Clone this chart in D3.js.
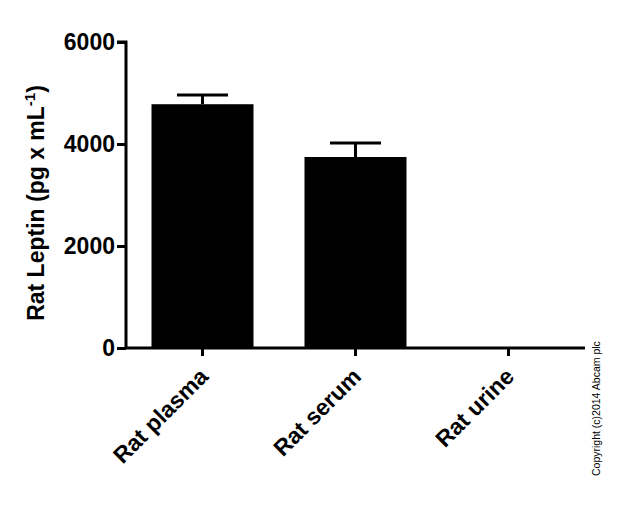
<!DOCTYPE html>
<html>
<head>
<meta charset="utf-8">
<script src="https://cdn.jsdelivr.net/npm/d3@7"></script>
<style>
  body { margin: 0; background: #fff; }
  svg { display: block; font-family: "Liberation Sans", Arial, sans-serif; }
</style>
</head>
<body>
<svg id="chart"></svg>
<script>
// data
const categories = ["Rat plasma", "Rat serum", "Rat urine"];
const means = [4780, 3745, 0];
const errors = [180, 275, 0];
const yTicks = [0, 2000, 4000, 6000];

// chart dimensions
const width = 617;
const height = 512;
const axisLeftX = 126;
const axisRightX = 585;
const yTop = 42;
const yBottom = 348;

const svg = d3.select("#chart")
  .attr("width", width)
  .attr("height", height);

const x = d3.scaleBand(categories, [axisLeftX, axisRightX]).padding(0);
const y = d3.scaleLinear([0, 6000], [yBottom, yTop]);
const barW = x.bandwidth() * 2 / 3;

// bars
svg.append("g")
  .selectAll("rect")
  .data(categories)
  .join("rect")
    .attr("x", d => x(d) + (x.bandwidth() - barW) / 2)
    .attr("y", (d, i) => y(means[i]))
    .attr("width", barW)
    .attr("height", (d, i) => y(0) - y(means[i]))
    .attr("fill", "#000");

// error bars (upper only)
const err = svg.append("g").attr("stroke", "#000").attr("stroke-width", 3);
categories.forEach((c, i) => {
  if (errors[i] <= 0) return;
  const cx = x(c) + x.bandwidth() / 2;
  err.append("line")
    .attr("x1", cx).attr("x2", cx)
    .attr("y1", y(means[i])).attr("y2", y(means[i] + errors[i]));
  err.append("line")
    .attr("x1", cx - barW / 4).attr("x2", cx + barW / 4)
    .attr("y1", y(means[i] + errors[i])).attr("y2", y(means[i] + errors[i]));
});

// y axis
svg.append("g")
  .attr("transform", `translate(${axisLeftX},0)`)
  .call(d3.axisLeft(y).tickValues(yTicks).tickFormat(d3.format("d")).tickSize(9).tickPadding(2))
  .call(g => g.select(".domain").attr("stroke-width", 3).attr("d", `M-9,${yTop}H0V${yBottom}`))
  .call(g => g.selectAll(".tick line").attr("stroke-width", 3))
  .call(g => g.selectAll(".tick text")
      .attr("font-size", 23)
      .attr("font-weight", "bold")
      .attr("fill", "#000")
      .attr("font-family", "Liberation Sans, Arial, sans-serif"));

// x axis
svg.append("g")
  .attr("transform", `translate(0,${yBottom})`)
  .call(d3.axisBottom(x).tickSize(8).tickSizeOuter(0))
  .call(g => g.select(".domain").attr("stroke-width", 3).attr("d", `M${axisLeftX},0H${axisRightX}`))
  .call(g => g.selectAll(".tick line").attr("stroke-width", 3))
  .call(g => g.selectAll(".tick text")
      .attr("font-size", 23)
      .attr("font-weight", "bold")
      .attr("fill", "#000")
      .attr("font-family", "Liberation Sans, Arial, sans-serif")
      .attr("text-anchor", "end")
      .attr("dy", null)
      .attr("y", 0)
      .attr("transform", "translate(7,30) rotate(-45)"));

// y label
svg.append("text")
  .attr("transform", `translate(44,${(yTop + yBottom) / 2 + 8}) rotate(-90)`)
  .attr("text-anchor", "middle")
  .attr("font-size", 23)
  .attr("font-weight", "bold")
  .attr("fill", "#000")
  .text("Rat Leptin (pg x mL")
  .append("tspan").attr("font-size", 15).attr("dy", -9).text("-1")
  .select(function() { return this.parentNode; })
  .append("tspan").attr("dy", 9).text(")");

// copyright
svg.append("text")
  .attr("transform", "translate(600,476) rotate(-90)")
  .attr("font-size", 10.5)
  .attr("fill", "#000")
  .text("Copyright (c)2014 Abcam plc");
</script>
</body>
</html>
